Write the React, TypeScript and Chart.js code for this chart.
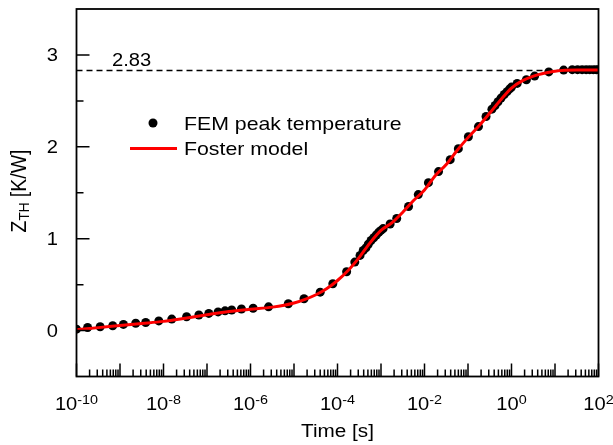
import React, { useEffect, useRef } from "react";
import { Chart, registerables } from "chart.js";

Chart.register(...registerables);

// FEM peak temperature samples: time [s] and Zth [K/W]
const femTime = [1.0e-10, 1.8e-10, 3.5e-10, 6.8e-10, 1.2e-9, 2.3e-9, 3.9e-9, 7.8e-9, 1.55e-8, 3.4e-8, 6.5e-8, 1.1e-7, 1.8e-7, 2.6e-7, 3.7e-7, 6.2e-7, 1.15e-6, 2.6e-6, 7.4e-6, 1.7e-5, 4.0e-5, 7.8e-5, 1.62e-4, 2.5e-4, 3.3e-4, 3.9e-4, 4.5e-4, 5.1e-4, 5.9e-4, 6.8e-4, 7.8e-4, 8.9e-4, 1.0e-3, 1.12e-3, 1.62e-3, 2.3e-3, 4.3e-3, 7.2e-3, 1.23e-2, 2.1e-2, 3.9e-2, 6.0e-2, 0.102, 0.174, 0.26, 0.355, 0.42, 0.49, 0.575, 0.68, 0.79, 0.91, 1.0, 1.35, 2.2, 3.4, 7.2, 15.8, 25, 33, 42, 52, 63, 76, 89, 100];
const femZth = [0.015, 0.033, 0.042, 0.053, 0.067, 0.08, 0.088, 0.105, 0.125, 0.15, 0.17, 0.187, 0.203, 0.215, 0.224, 0.235, 0.243, 0.258, 0.292, 0.346, 0.418, 0.509, 0.64, 0.745, 0.818, 0.872, 0.9, 0.94, 0.98, 1.01, 1.04, 1.07, 1.09, 1.11, 1.16, 1.22, 1.35, 1.48, 1.61, 1.73, 1.86, 1.98, 2.11, 2.22, 2.33, 2.41, 2.45, 2.49, 2.53, 2.57, 2.6, 2.63, 2.65, 2.69, 2.73, 2.77, 2.815, 2.835, 2.84, 2.84, 2.84, 2.84, 2.84, 2.84, 2.84, 2.84];

// Foster model curve
const fosterTime = [1e-10, 3.2e-10, 1e-9, 3.2e-9, 1e-8, 3.2e-8, 1e-7, 3.2e-7, 1e-6, 3.2e-6, 1e-5, 1.8e-5, 3.2e-5, 5.6e-5, 1e-4, 1.8e-4, 3.2e-4, 5.6e-4, 1e-3, 1.8e-3, 3.2e-3, 5.6e-3, 1e-2, 1.8e-2, 3.2e-2, 5.6e-2, 0.1, 0.18, 0.32, 0.56, 1, 1.8, 3.2, 5.6, 10, 32, 100];
const fosterZth = [0.01, 0.032, 0.055, 0.077, 0.1, 0.135, 0.172, 0.207, 0.232, 0.255, 0.3, 0.34, 0.39, 0.455, 0.545, 0.66, 0.8, 0.955, 1.09, 1.175, 1.29, 1.415, 1.53, 1.69, 1.81, 1.96, 2.1, 2.23, 2.37, 2.51, 2.64, 2.72, 2.77, 2.8, 2.823, 2.835, 2.835];

// Steady-state reference line
const steadyValue = 2.83;
const steadyLabel = "2.83";
const steadyTime = [1e-10, 100];

// Axes
const xMin = 1e-10;
const xMax = 100;
const yMin = -0.5;
const yMax = 3.5;
const xDecades = [-10, -9, -8, -7, -6, -5, -4, -3, -2, -1, 0, 1, 2];
const xLabelExponents = ["-10", "-8", "-6", "-4", "-2", "0", "2"];
const xLabelValues = [1e-10, 1e-8, 1e-6, 1e-4, 1e-2, 1, 100];
const yMajorTicks = [0, 1, 2, 3];
const yMinorTicks = [0.5, 1.5, 2.5];
const yTickLabels = ["0", "1", "2", "3"];

const xTitle = "Time [s]";
const legendFem = "FEM peak temperature";
const legendFoster = "Foster model";

const FONT = '"Liberation Sans", Arial, Helvetica, sans-serif';
const SX = 1.15;

function txt(ctx: CanvasRenderingContext2D, s: string, x: number, y: number, size: number, align: CanvasTextAlign) {
  ctx.save();
  ctx.font = `${size}px ${FONT}`;
  ctx.translate(x, y);
  ctx.scale(SX, 1);
  ctx.textAlign = align;
  ctx.textBaseline = "alphabetic";
  ctx.fillStyle = "#000";
  ctx.fillText(s, 0, 0);
  ctx.restore();
}

function measure(ctx: CanvasRenderingContext2D, s: string, size: number) {
  ctx.save();
  ctx.font = `${size}px ${FONT}`;
  const w = ctx.measureText(s).width * SX;
  ctx.restore();
  return w;
}

const decorPlugin = {
  id: "decor",
  afterDraw(chart: any) {
    const ctx: CanvasRenderingContext2D = chart.ctx;
    const a = chart.chartArea;
    const xs = chart.scales.x;
    const ys = chart.scales.y;
    ctx.save();
    ctx.strokeStyle = "#000";
    ctx.lineWidth = 1.8;
    ctx.strokeRect(a.left, a.top, a.right - a.left, a.bottom - a.top);

    // x ticks (inward)
    ctx.lineWidth = 1.5;
    ctx.beginPath();
    xDecades.forEach((e) => {
      const base = Math.pow(10, e);
      const px = xs.getPixelForValue(base);
      ctx.moveTo(px, a.bottom);
      ctx.lineTo(px, a.bottom - 13);
      if (e < 2) {
        for (let k = 2; k <= 9; k++) {
          const p = xs.getPixelForValue(k * base);
          ctx.moveTo(p, a.bottom);
          ctx.lineTo(p, a.bottom - 7);
        }
      }
    });
    // y ticks (inward)
    yMajorTicks.forEach((v) => {
      const py = ys.getPixelForValue(v);
      ctx.moveTo(a.left, py);
      ctx.lineTo(a.left + 13, py);
    });
    yMinorTicks.forEach((v) => {
      const py = ys.getPixelForValue(v);
      ctx.moveTo(a.left, py);
      ctx.lineTo(a.left + 7, py);
    });
    ctx.stroke();

    // y tick labels
    yMajorTicks.forEach((v, i) => {
      const py = ys.getPixelForValue(v);
      txt(ctx, yTickLabels[i], 58, py + 6, 17.5, "right");
    });

    // x tick labels with superscript exponents
    xLabelValues.forEach((v, i) => {
      const px = xs.getPixelForValue(v);
      const wb = measure(ctx, "10", 17.5);
      const we = measure(ctx, xLabelExponents[i], 12.5);
      const start = px - (wb + we) / 2;
      txt(ctx, "10", start, 410, 17.5, "left");
      txt(ctx, xLabelExponents[i], start + wb, 403.5, 12.5, "left");
    });

    // x title
    txt(ctx, xTitle, (a.left + a.right) / 2, 437, 18, "center");

    // y title: Z_TH [K/W]
    ctx.save();
    ctx.translate(25.5, 191);
    ctx.rotate(-Math.PI / 2);
    ctx.scale(1, SX);
    ctx.fillStyle = "#000";
    ctx.textBaseline = "alphabetic";
    ctx.font = `19.5px ${FONT}`;
    const wZ = ctx.measureText("Z").width;
    ctx.font = `13.5px ${FONT}`;
    const wTH = ctx.measureText("TH").width;
    ctx.font = `19.5px ${FONT}`;
    const wRest = ctx.measureText(" [K/W]").width;
    const x0 = -(wZ + wTH + wRest) / 2;
    ctx.fillText("Z", x0, 0);
    ctx.font = `13.5px ${FONT}`;
    ctx.fillText("TH", x0 + wZ, 3);
    ctx.font = `19.5px ${FONT}`;
    ctx.fillText(" [K/W]", x0 + wZ + wTH, 0);
    ctx.restore();

    // steady-state label
    txt(ctx, steadyLabel, 112, 65.5, 17.5, "left");

    // legend
    ctx.fillStyle = "#000";
    ctx.beginPath();
    ctx.arc(153, 123, 4.5, 0, Math.PI * 2);
    ctx.fill();
    txt(ctx, legendFem, 184, 129.5, 18.5, "left");
    ctx.strokeStyle = "#ff0000";
    ctx.lineWidth = 3;
    ctx.beginPath();
    ctx.moveTo(130, 148.5);
    ctx.lineTo(177, 148.5);
    ctx.stroke();
    txt(ctx, legendFoster, 184, 155, 18.5, "left");
    ctx.restore();
  },
};

export default function App() {
  const ref = useRef<HTMLCanvasElement | null>(null);
  useEffect(() => {
    if (!ref.current) return;
    const chart = new Chart(ref.current, {
      type: "scatter",
      data: {
        datasets: [
          {
            label: legendFoster,
            data: fosterTime.map((t, i) => ({ x: t, y: fosterZth[i] })),
            showLine: true,
            borderColor: "#ff0000",
            borderWidth: 3,
            pointRadius: 0,
            cubicInterpolationMode: "monotone",
            clip: 0,
          },
          {
            label: legendFem,
            data: femTime.map((t, i) => ({ x: t, y: femZth[i] })),
            showLine: false,
            pointRadius: 4.5,
            pointBackgroundColor: "#000",
            pointBorderColor: "#000",
            pointBorderWidth: 0,
            clip: 0,
          },
          {
            label: "steady",
            data: steadyTime.map((t) => ({ x: t, y: steadyValue })),
            showLine: true,
            borderColor: "#000",
            borderWidth: 1.5,
            borderDash: [6, 4],
            pointRadius: 0,
            clip: 0,
          },
        ],
      } as any,
      options: {
        animation: false,
        responsive: false,
        maintainAspectRatio: false,
        layout: { padding: { top: 9, right: 14.5, left: 0, bottom: 0 } },
        plugins: { legend: { display: false }, tooltip: { enabled: false } },
        events: [],
        scales: {
          x: {
            type: "logarithmic",
            min: xMin,
            max: xMax,
            grid: { display: false },
            border: { display: false },
            ticks: { display: false },
            afterFit: (s: any) => {
              s.height = 68.5;
            },
          },
          y: {
            type: "linear",
            min: yMin,
            max: yMax,
            grid: { display: false },
            border: { display: false },
            ticks: { display: false },
            afterFit: (s: any) => {
              s.width = 76.5;
            },
          },
        },
      } as any,
      plugins: [decorPlugin],
    });
    return () => chart.destroy();
  }, []);
  return (
    <div style={{ position: "fixed", left: 0, top: 0, width: 613, height: 445, background: "#fff" }}>
      <canvas ref={ref} width={613} height={445} style={{ display: "block" }} />
    </div>
  );
}
